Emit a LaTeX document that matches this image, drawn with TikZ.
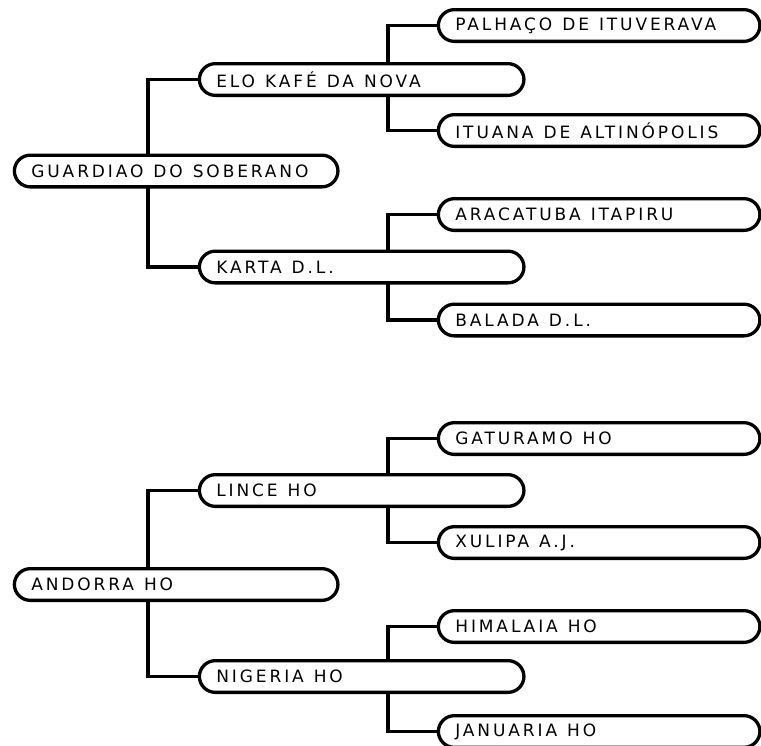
\documentclass[tikz,border=0pt]{standalone}
\usepackage{fontspec}
\newfontfamily\lblfont[LetterSpace=17]{DejaVu Sans}
\protected\def\lblsetup{\lblfont\fontsize{17}{17}\selectfont\parindent 0pt\relax}
\protected\def\W{\kern 10pt\relax}
\pgfdeclarelayer{bg}
\pgfsetlayers{bg,main}
\begin{document}
\begin{tikzpicture}[x=1pt,y=-1pt,
  box/.style={draw=black, fill=white, line width=3.3pt, rounded corners=16pt,
    minimum height=31.7pt, inner xsep=17pt, inner ysep=0pt, text width=290pt,
    anchor=west, font=\lblsetup},
  rootbox/.style={box, text width=289.6pt},
  midbox/.style={box, text width=290.6pt},
  leafbox/.style={box, text width=287.6pt},
  conn/.style={draw=black, line width=3.3pt}]
\useasboundingbox (0,0) rectangle (761,745);
% column x positions
\coordinate (rx) at (148,0);
\coordinate (mx) at (388,0);
% top tree
\node[rootbox] (gua) at (12.7,171) {GUARDIAO\W DO\W SOBERANO};
\node[midbox] (elo) at (197.7,79.5) {ELO\W KAFÉ\W DA\W NOVA};
\node[midbox] (kar) at (197.7,267) {KARTA\W D.L.};
\node[leafbox] (pal) at (436.7,25.5) {PALHAÇO\W DE\W ITUVERAVA};
\node[leafbox] (itu) at (436.7,130.5) {ITUANA\W DE\W ALTINÓPOLIS};
\node[leafbox] (ara) at (436.7,214.5) {ARACATUBA\W ITAPIRU};
\node[leafbox] (bal) at (436.7,320) {BALADA\W D.L.};
% bottom tree
\node[rootbox] (and) at (12.7,584.5) {ANDORRA\W HO};
\node[midbox] (lin) at (197.7,490.5) {LINCE\W HO};
\node[midbox] (nig) at (197.7,676.5) {NIGERIA\W HO};
\node[leafbox] (gat) at (436.7,438.5) {GATURAMO\W HO};
\node[leafbox] (xul) at (436.7,542.5) {XULIPA\W A.J.};
\node[leafbox] (him) at (436.7,626.5) {HIMALAIA\W HO};
\node[leafbox] (jan) at (436.7,731.5) {JANUARIA\W HO};
% connectors (behind boxes)
\begin{pgfonlayer}{bg}
\draw[conn] (elo.west) -- (elo.west -| rx) -- (kar.west -| rx) -- (kar.west);
\draw[conn] (pal.west) -- (pal.west -| mx) -- (itu.west -| mx) -- (itu.west);
\draw[conn] (ara.west) -- (ara.west -| mx) -- (bal.west -| mx) -- (bal.west);
\draw[conn] (lin.west) -- (lin.west -| rx) -- (nig.west -| rx) -- (nig.west);
\draw[conn] (gat.west) -- (gat.west -| mx) -- (xul.west -| mx) -- (xul.west);
\draw[conn] (him.west) -- (him.west -| mx) -- (jan.west -| mx) -- (jan.west);
\end{pgfonlayer}
\end{tikzpicture}
\end{document}
